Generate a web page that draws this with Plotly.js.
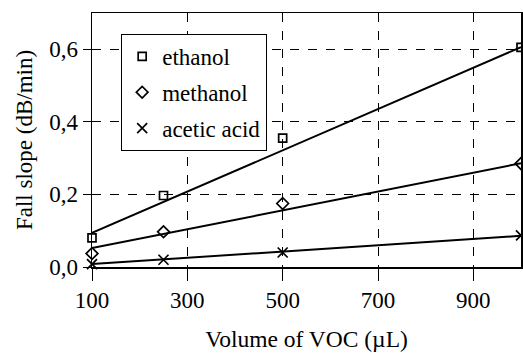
<!DOCTYPE html>
<html>
<head>
<meta charset="utf-8">
<script src="https://cdn.plot.ly/plotly-3.0.1.min.js"></script>
<style>html,body{margin:0;padding:0;background:#fff;}#chart{width:523px;height:356px;}
#ovl{position:absolute;left:0;top:0;width:523px;height:356px;font:10px monospace;color:transparent;background:transparent;pointer-events:none;}</style>
</head>
<body>
<div id="chart"></div>
<div id="ovl"></div>
<script>
// Data
var volumes = [100, 250, 500, 1000];
var ethanol = [0.080, 0.197, 0.355, 0.605];
var methanol = [0.037, 0.097, 0.175, 0.285];
var aceticAcid = [0.008, 0.020, 0.040, 0.087];
// Linear fit line endpoints
var fitX = [100, 1000];
var ethanolFit = [0.094, 0.606];
var methanolFit = [0.052, 0.286];
var aceticFit = [0.008, 0.086];
var xTicks = [100, 300, 500, 700, 900];
var yTicks = [0, 0.2, 0.4, 0.6];
var seriesNames = ['ethanol', 'methanol', 'acetic acid'];

var FONT = 'Liberation Serif';
function pts(name, y, symbol, size, group) {
  return {x: volumes, y: y, name: name, type: 'scatter', mode: 'markers', cliponaxis: false,
    legendgroup: group,
    marker: {symbol: symbol, size: size, color: '#000', line: {color: '#000', width: 1.7}}};
}
function fit(y) {
  return {x: fitX, y: y, type: 'scatter', mode: 'lines', showlegend: false, hoverinfo: 'skip',
    line: {color: '#000', width: 2}};
}
var data = [
  fit(ethanolFit), fit(methanolFit), fit(aceticFit),
  pts(seriesNames[0], ethanol, 'square-open', 8, 'a'),
  pts(seriesNames[1], methanol, 'diamond-open', 9, 'b'),
  pts(seriesNames[2], aceticAcid, 'x-thin-open', 10, 'c')
];
var layout = {
  width: 523, height: 356,
  margin: {l: 92, r: 2, t: 13, b: 89},
  paper_bgcolor: '#fff', plot_bgcolor: '#fff',
  separators: ',.',
  font: {family: FONT, size: 23, color: '#000'},
  showlegend: true,
  legend: {x: 0.068, y: 0.918, xanchor: 'left', yanchor: 'top', bgcolor: '#fff',
    bordercolor: '#000', borderwidth: 1, tracegroupgap: 3,
    font: {family: FONT, size: 23, color: '#000'}},
  xaxis: {range: [100, 1000], tickvals: xTicks, ticktext: xTicks.map(String),
    showgrid: true, gridcolor: '#000', griddash: 'dash', gridwidth: 1,
    ticks: 'outside', ticklen: 12, tickcolor: '#000', tickwidth: 1,
    showline: true, linecolor: '#000', linewidth: 1.5, mirror: true, zeroline: false,
    tickfont: {family: FONT, size: 23},
    title: {text: 'Volume of VOC (µL)', font: {family: FONT, size: 23.5}, standoff: 18}},
  yaxis: {range: [0, 0.7], tickvals: yTicks, tickformat: '.1f',
    showgrid: true, gridcolor: '#000', griddash: 'dash', gridwidth: 1,
    ticks: 'outside', ticklen: 8, tickcolor: '#000', tickwidth: 1,
    showline: true, linecolor: '#000', linewidth: 1.5, mirror: true, zeroline: false,
    tickfont: {family: FONT, size: 23},
    title: {text: 'Fall slope (dB/min)', font: {family: FONT, size: 23}, standoff: 10}}
};
Plotly.newPlot('chart', data, layout, {displayModeBar: false, staticPlot: true}).then(function () {
  var nodes = document.querySelectorAll('#chart .legendtext');
  var info = [];
  for (var i = 0; i < nodes.length; i++) {
    info.push(nodes[i].getAttribute('style') + getComputedStyle(nodes[i]).fontFamily);
    var c = nodes[i].cloneNode(true);
    nodes[i].parentNode.replaceChild(c, nodes[i]);
  }
  document.getElementById('ovl').textContent = '\u00a0';
  document.getElementById('ovl').setAttribute('data-info', info.join('|'));
});
</script>
</body>
</html>
